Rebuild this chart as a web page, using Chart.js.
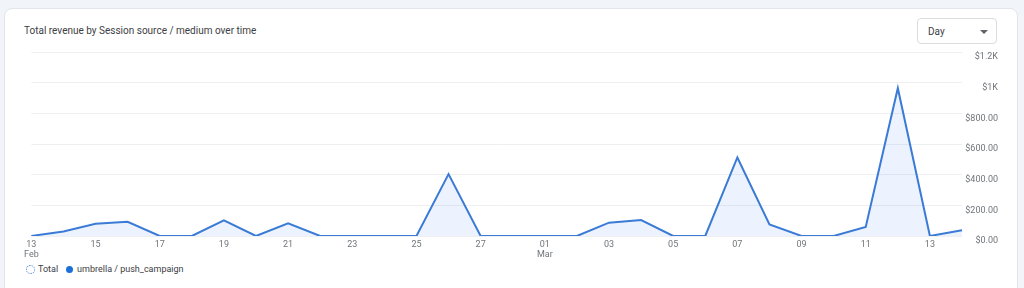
<!DOCTYPE html>
<html>
<head>
<meta charset="utf-8">
<script src="https://cdn.jsdelivr.net/npm/chart.js@4"></script>
<style>
  html, body { margin: 0; padding: 0; }
  body {
    width: 1024px; height: 288px; overflow: hidden;
    background: #f1f4f9;
    font-family: Roboto, "Noto Sans", Arial, sans-serif;
    position: relative;
  }
  .card {
    position: absolute; left: 4px; top: 8px; width: 1012px; height: 300px;
    background: #fff; border: 1px solid #e1e4e8; border-radius: 8px;
  }
  .title {
    position: absolute; left: 24px; top: 25px;
    font-size: 10px; color: #3c4043;
  }
  .dropdown {
    position: absolute; left: 917px; top: 18px; width: 80px; height: 26px;
    box-sizing: border-box; border: 1px solid #dadce0; border-radius: 4px;
    font-size: 10px; color: #3c4043; background: #fff;
  }
  .dropdown span { position: absolute; left: 10px; top: 7px; }
  .dropdown i {
    position: absolute; left: 62px; top: 11px; width: 0; height: 0;
    border-left: 4px solid transparent; border-right: 4px solid transparent;
    border-top: 4px solid #5f6368;
  }
  .chart-box { position: absolute; left: 20px; top: 40px; width: 980px; height: 224px; }
  .legend {
    position: absolute; left: 26px; top: 264px;
    font-size: 9px; color: #3c4043; display: flex; align-items: center;
  }
  .legend .ring {
    width: 7px; height: 7px; border-radius: 50%;
    border: 1px dotted #3b7bd6; margin-right: 3px;
  }
  .legend .dot {
    width: 7px; height: 7px; border-radius: 50%;
    background: #1a6fd8; margin: 0 4px 0 8px;
  }
</style>
</head>
<body>
<div class="card"></div>
<div class="title">Total revenue by Session source / medium over time</div>
<div class="dropdown"><span>Day</span><i></i></div>
<div class="chart-box"><canvas id="revChart"></canvas></div>
<div class="legend"><div class="ring"></div>Total<div class="dot"></div>umbrella / push_campaign</div>

<script>
// Feb 13 .. Mar 14 (daily)
const days = ['13', '14', '15', '16', '17', '18', '19', '20', '21', '22', '23', '24', '25', '26', '27', '28',
              '01', '02', '03', '04', '05', '06', '07', '08', '09', '10', '11', '12', '13', '14'];
const months = { 0: 'Feb', 16: 'Mar' };
const revenue = [0, 30, 80, 93, 0, 0, 102, 0, 83, 0, 0, 0, 0, 404, 0, 0,
                 0, 0, 87, 104, 0, 0, 512, 76, 0, 0, 59, 964, 0, 38];
const yTicks = [0, 200, 400, 600, 800, 1000, 1200];

const labels = days.map((d, i) => months[i] ? [d, months[i]] : d);

function fmtMoney(v) {
    if (v >= 1000) return '$' + (v / 1000).toString() + 'K';
    return '$' + v.toFixed(2);
}

const ctx = document.getElementById('revChart').getContext('2d');
new Chart(ctx, {
    type: 'line',
    data: {
        labels: labels,
        datasets: [{
            label: 'umbrella / push_campaign',
            data: revenue,
            borderColor: '#3b7bd6',
            backgroundColor: 'rgba(66, 133, 244, 0.1)',
            borderWidth: 2,
            fill: 'origin',
            pointRadius: 0,
            tension: 0
        }]
    },
    options: {
        responsive: true,
        maintainAspectRatio: false,
        animation: false,
        layout: { padding: { left: 7, right: 2, top: 12, bottom: 0 } },
        plugins: { legend: { display: false }, tooltip: { enabled: false } },
        scales: {
            x: {
                grid: { display: false, drawTicks: false },
                border: { display: false },
                ticks: {
                    autoSkip: false,
                    maxRotation: 0,
                    padding: 4,
                    color: '#70757a',
                    font: { family: 'Roboto', size: 9, lineHeight: 1.1 },
                    callback: function(value, index) {
                        return index % 2 === 0 ? this.getLabelForValue(value) : '';
                    }
                },
                afterFit: scale => { scale.height = 28; }
            },
            y: {
                position: 'right',
                min: 0,
                max: 1200,
                afterBuildTicks: scale => { scale.ticks = yTicks.map(v => ({ value: v })); },
                grid: { color: '#eeeff1', drawTicks: false },
                border: { display: false },
                ticks: {
                    crossAlign: 'far',
                    labelOffset: 5,
                    color: '#70757a',
                    font: { family: 'Roboto', size: 9 },
                    callback: v => fmtMoney(v)
                },
                afterFit: scale => { scale.width = 36; }
            }
        }
    }
});
</script>
</body>
</html>
